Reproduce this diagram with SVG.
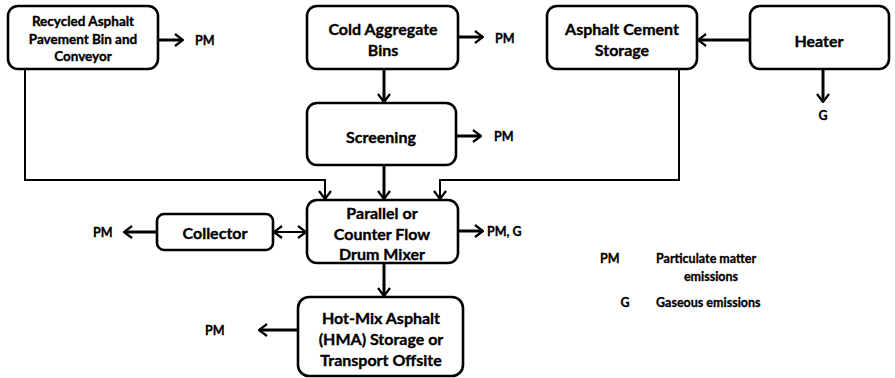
<svg xmlns="http://www.w3.org/2000/svg" width="895" height="378" viewBox="0 0 895 378">
<style>
.box{fill:#fff;stroke:#000;stroke-width:2.6}
.t{font-family:Lato,"Open Sans",sans-serif;font-weight:bold;font-size:16px;fill:#000;stroke:#000;stroke-width:0.35;text-anchor:middle;dominant-baseline:central}
.s{font-size:13.5px}
.lb{font-family:Lato,"Open Sans",sans-serif;font-weight:bold;font-size:12.5px;fill:#000;stroke:#000;stroke-width:0.3;dominant-baseline:central}
.c{fill:none;stroke:#000;stroke-width:2}
.ct{fill:none;stroke:#000;stroke-width:3}
</style>
<defs>
<marker id="a" viewBox="0 0 10 14" refX="9" refY="7" markerWidth="10" markerHeight="14" markerUnits="userSpaceOnUse" orient="auto-start-reverse">
<path d="M1,1 L9,7 L1,13" fill="none" stroke="#000" stroke-width="2.2"/>
</marker>
</defs>
<g id="connectors">
<path class="ct" d="M158,40 H183" marker-end="url(#a)"/>
<path class="ct" d="M458,37 H483" marker-end="url(#a)"/>
<path class="ct" d="M750,40 H698" marker-end="url(#a)"/>
<path class="ct" d="M823,69 V102" marker-end="url(#a)"/>
<path class="ct" d="M384,69 V102" marker-end="url(#a)"/>
<path class="ct" d="M456,136 H481" marker-end="url(#a)"/>
<path class="c" d="M25,69 V180 H325 V199" marker-end="url(#a)"/>
<path class="ct" d="M384,165 V199" marker-end="url(#a)"/>
<path class="c" d="M679,69 V180 H440 V199" marker-end="url(#a)"/>
<path class="c" d="M274,232 H306" marker-start="url(#a)" marker-end="url(#a)"/>
<path class="ct" d="M157,232 H124" marker-end="url(#a)"/>
<path class="ct" d="M458,231 H483" marker-end="url(#a)"/>
<path class="ct" d="M384,263 V296" marker-end="url(#a)"/>
<path class="ct" d="M298,330 H259" marker-end="url(#a)"/>
</g>
<g id="recycled">
<rect class="box" x="8" y="6" width="150" height="63" rx="10"/>
<text class="t s" x="83" y="21">Recycled Asphalt</text>
<text class="t s" x="83" y="39">Pavement Bin and</text>
<text class="t s" x="83" y="56">Conveyor</text>
</g>
<text class="lb" x="195" y="40">PM</text>
<g id="cold">
<rect class="box" x="307" y="6" width="151" height="63" rx="10"/>
<text class="t" x="383" y="28">Cold Aggregate</text>
<text class="t" x="383" y="49">Bins</text>
</g>
<text class="lb" x="495" y="38">PM</text>
<g id="acs">
<rect class="box" x="547" y="6" width="150" height="63" rx="10"/>
<text class="t" x="622" y="28">Asphalt Cement</text>
<text class="t" x="622" y="49">Storage</text>
</g>
<g id="heater">
<rect class="box" x="750" y="6" width="139" height="63" rx="10"/>
<text class="t" x="819" y="40">Heater</text>
</g>
<text class="lb" x="823" y="115" text-anchor="middle">G</text>
<g id="screening">
<rect class="box" x="307" y="103" width="149" height="62" rx="10"/>
<text class="t" x="381" y="136">Screening</text>
</g>
<text class="lb" x="494" y="136">PM</text>
<g id="collector">
<rect class="box" x="157" y="214" width="116" height="36" rx="7"/>
<text class="t" x="215" y="232">Collector</text>
</g>
<text class="lb" x="93" y="232">PM</text>
<g id="mixer">
<rect class="box" x="307" y="200" width="151" height="63" rx="10"/>
<text class="t" x="382" y="212">Parallel or</text>
<text class="t" x="382" y="233">Counter Flow</text>
<text class="t" x="382" y="253">Drum Mixer</text>
</g>
<text class="lb" x="487" y="231">PM, G</text>
<g id="hma">
<rect class="box" x="298" y="297" width="165" height="79" rx="11"/>
<text class="t" x="381" y="317">Hot-Mix Asphalt</text>
<text class="t" x="381" y="338">(HMA) Storage or</text>
<text class="t" x="381" y="359">Transport Offsite</text>
</g>
<text class="lb" x="205" y="330">PM</text>
<g id="legend">
<text class="lb" x="600" y="258">PM</text>
<text class="lb" x="656" y="258">Particulate matter</text>
<text class="lb" x="711" y="276" text-anchor="middle">emissions</text>
<text class="lb" x="625" y="302" text-anchor="middle">G</text>
<text class="lb" x="656" y="302">Gaseous emissions</text>
</g>
</svg>
